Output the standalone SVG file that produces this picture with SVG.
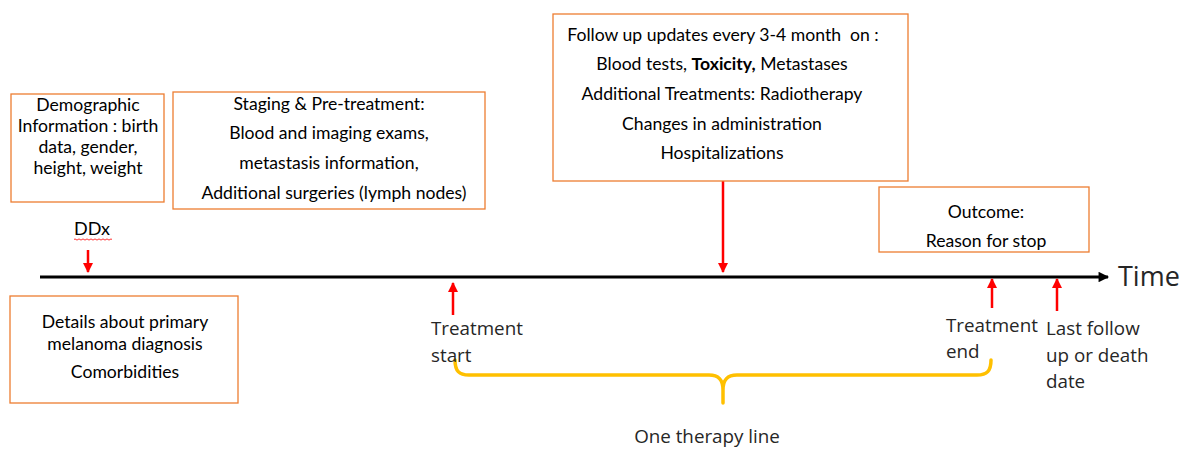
<svg xmlns="http://www.w3.org/2000/svg" width="1184" height="474" viewBox="0 0 1184 474">
<defs>
<style>
.box{fill:#fff;stroke:#ED7D31;stroke-width:1.3}
.bt{font-family:Lato,"Liberation Sans",sans-serif;font-size:17.6px;fill:#000;text-anchor:middle}
.lbl{font-family:"Open Sans","Liberation Sans",sans-serif;font-size:18.8px;fill:#262626}
.red{stroke:#FF0000;stroke-width:2.5;fill:none}
</style>
<marker id="rh" viewBox="0 0 10 10" refX="9" refY="5" markerWidth="4" markerHeight="4" orient="auto" markerUnits="strokeWidth">
<path d="M0,0 L10,5 L0,10 Z" fill="#FF0000"/>
</marker>
<marker id="bh" viewBox="0 0 10 10" refX="9" refY="5" markerWidth="4.5" markerHeight="3.5" orient="auto" markerUnits="strokeWidth">
<path d="M0,0 L10,5 L0,10 Z" fill="#000"/>
</marker>
</defs>
<rect width="1184" height="474" fill="#fff"/>

<g id="connectors">
<line x1="40" y1="277" x2="1108" y2="277" stroke="#000" stroke-width="3" marker-end="url(#bh)"/>
<line class="red" x1="88" y1="250" x2="88" y2="272" marker-end="url(#rh)"/>
<line class="red" x1="453" y1="315" x2="453" y2="283" marker-end="url(#rh)"/>
<line class="red" x1="723" y1="181" x2="723" y2="272" marker-end="url(#rh)"/>
<line class="red" x1="992" y1="308" x2="992" y2="279" marker-end="url(#rh)"/>
<line class="red" x1="1057" y1="311" x2="1057" y2="279" marker-end="url(#rh)"/>
<path d="M455,360 C455,371 459,375 469,375 H709 C719,375 723,380 723,390 V403 M723,390 C723,380 727,375 737,375 H977 C987,375 991,371 991,360" fill="none" stroke="#FFC000" stroke-width="3.5" stroke-linecap="round"/>
</g>

<g id="time-label">
<text x="1118" y="286" font-family="'Open Sans','Liberation Sans',sans-serif" font-size="27" fill="#262626">Time</text>
</g>

<g id="ddx">
<text x="74" y="235" font-family="Lato,'Liberation Sans',sans-serif" font-size="18" fill="#000">DDx</text>
<path d="M74,239.5 q1,-1.2 2,0 t2,0 t2,0 t2,0 t2,0 t2,0 t2,0 t2,0 t2,0 t2,0 t2,0 t2,0 t2,0 t2,0 t2,0 t2,0 t2,0 t2,0 t2,0" fill="none" stroke="#FF0000" stroke-width="0.8"/>
</g>

<g id="demographic">
<rect class="box" x="11" y="94" width="153" height="108"/>
<text class="bt" x="88" y="111">Demographic</text>
<text class="bt" x="88" y="132">Information : birth</text>
<text class="bt" x="88" y="153">data, gender,</text>
<text class="bt" x="88" y="174">height, weight</text>
</g>

<g id="staging">
<rect class="box" x="173" y="92" width="312" height="117"/>
<text class="bt" x="329" y="110">Staging &amp; Pre-treatment:</text>
<text class="bt" x="329" y="139">Blood and imaging exams,</text>
<text class="bt" x="329" y="169">metastasis information,</text>
<text class="bt" x="334" y="199">Additional surgeries (lymph nodes)</text>
</g>

<g id="followup">
<rect class="box" x="553" y="14" width="355" height="167"/>
<text class="bt" x="723" y="41" xml:space="preserve">Follow up updates every 3-4 month  on :</text>
<text class="bt" x="722" y="70">Blood tests, <tspan font-weight="bold">Toxicity,</tspan> Metastases</text>
<text class="bt" x="722" y="100">Additional Treatments: Radiotherapy</text>
<text class="bt" x="722" y="130">Changes in administration</text>
<text class="bt" x="722" y="159">Hospitalizations</text>
</g>

<g id="outcome">
<rect class="box" x="879" y="187" width="210" height="65"/>
<text class="bt" x="986" y="218">Outcome:</text>
<text class="bt" x="986" y="247">Reason for stop</text>
</g>

<g id="details">
<rect class="box" x="10" y="296" width="228" height="107"/>
<text class="bt" x="125" y="328">Details about primary</text>
<text class="bt" x="125" y="350">melanoma diagnosis</text>
<text class="bt" x="125" y="378">Comorbidities</text>
</g>

<g id="treatment-start">
<text class="lbl" x="431" y="335">Treatment</text>
<text class="lbl" x="431" y="362">start</text>
</g>

<g id="treatment-end">
<text class="lbl" x="946" y="332">Treatment</text>
<text class="lbl" x="946" y="358">end</text>
</g>

<g id="last-followup">
<text class="lbl" x="1046" y="335">Last follow</text>
<text class="lbl" x="1046" y="362">up or death</text>
<text class="lbl" x="1046" y="388">date</text>
</g>

<g id="therapy-line">
<text class="lbl" x="707" y="443" text-anchor="middle" font-size="19.5">One therapy line</text>
</g>
</svg>
